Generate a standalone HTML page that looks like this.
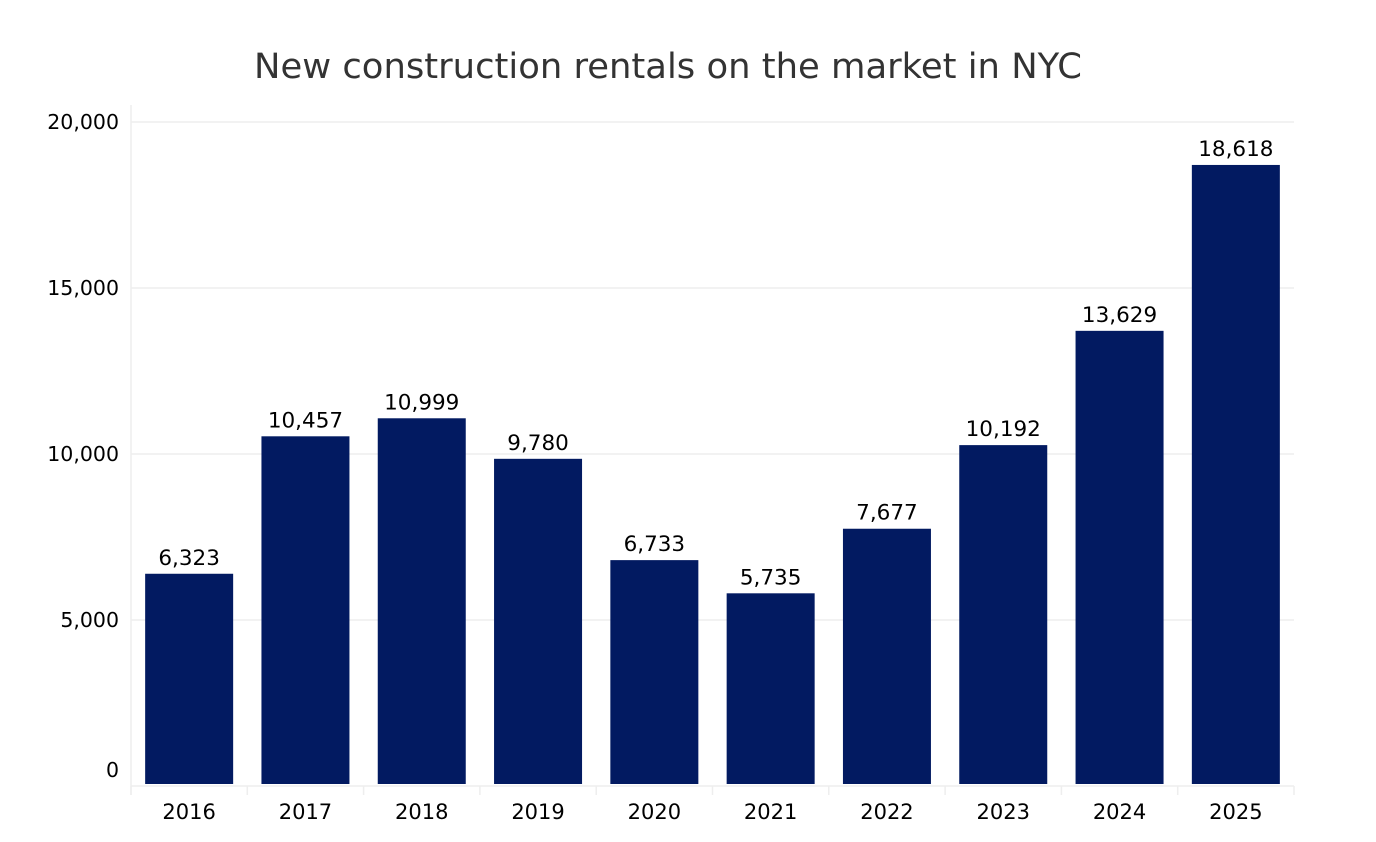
<!DOCTYPE html>
<html><head><meta charset="utf-8"><style>
body{margin:0;background:#fff;width:1376px;height:838px;overflow:hidden;font-family:"DejaVu Sans","Liberation Sans",sans-serif}
</style></head><body>
<svg id="chart" width="1376" height="838" xmlns="http://www.w3.org/2000/svg">
<text x="668" y="78" text-anchor="middle" font-size="35" fill="#333" font-family="DejaVu Sans, Liberation Sans, sans-serif" textLength="828" lengthAdjust="spacingAndGlyphs">New construction rentals on the market in NYC</text>
<g id="grid"></g><g id="bars"></g><g id="labels"></g>
</svg>
<script>
const categories=["2016","2017","2018","2019","2020","2021","2022","2023","2024","2025"];
const values=[6323,10457,10999,9780,6733,5735,7677,10192,13629,18618];
const valueLabels=["6,323","10,457","10,999","9,780","6,733","5,735","7,677","10,192","13,629","18,618"];
const yTicks=[0,5000,10000,15000,20000];
const yTickLabels=["0","5,000","10,000","15,000","20,000"];
const NS="http://www.w3.org/2000/svg";
const L=131,R=1294,T=122,B=786,yMax=20000;
const y=v=>B-(v/yMax)*(B-T);
const yb=v=>784-(v/yMax)*665;
const band=(R-L)/categories.length;
const x=i=>L+band*i;
const bw=88;
function mk(t,a,p){const e=document.createElementNS(NS,t);for(const k in a)e.setAttribute(k,a[k]);p.appendChild(e);return e;}
const g=document.getElementById('grid'),bg=document.getElementById('bars'),lg=document.getElementById('labels');
yTicks.forEach((v,i)=>{
 const ln=mk('line',{x1:L,x2:R,y1:y(v),y2:y(v),stroke:'#eeeeee','stroke-width':1.5},g);
 
 
 const t=mk('text',{x:119,y:(v===0?777:y(v)+7),'text-anchor':'end','font-size':20.5,fill:'#000'},g);
 
 
 t.textContent=yTickLabels[i];
});
const ax=mk('line',{x1:L,x2:L,y1:105,y2:795,stroke:'#eeeeee','stroke-width':1.5},g);


for(let i=0;i<=categories.length;i++){
 const tk=mk('line',{x1:x(i),x2:x(i),y1:786,y2:795,stroke:'#eeeeee','stroke-width':1.5},g);
 
 
}
categories.forEach((c,i)=>{
 const cx=x(i)+band/2;
 const r=mk('rect',{x:cx-bw/2,y:yb(values[i]),width:bw,height:784-yb(values[i]),fill:'#021a61'},bg);
 
 
 const vt=mk('text',{x:cx,y:yb(values[i])-9,'text-anchor':'middle','font-size':21.5,fill:'#000'},lg);
 
 
 vt.textContent=valueLabels[i];
 const xt=mk('text',{x:cx,y:819,'text-anchor':'middle','font-size':21,fill:'#000'},lg);
 
 
 xt.textContent=c;
});
</script>
</body></html>
